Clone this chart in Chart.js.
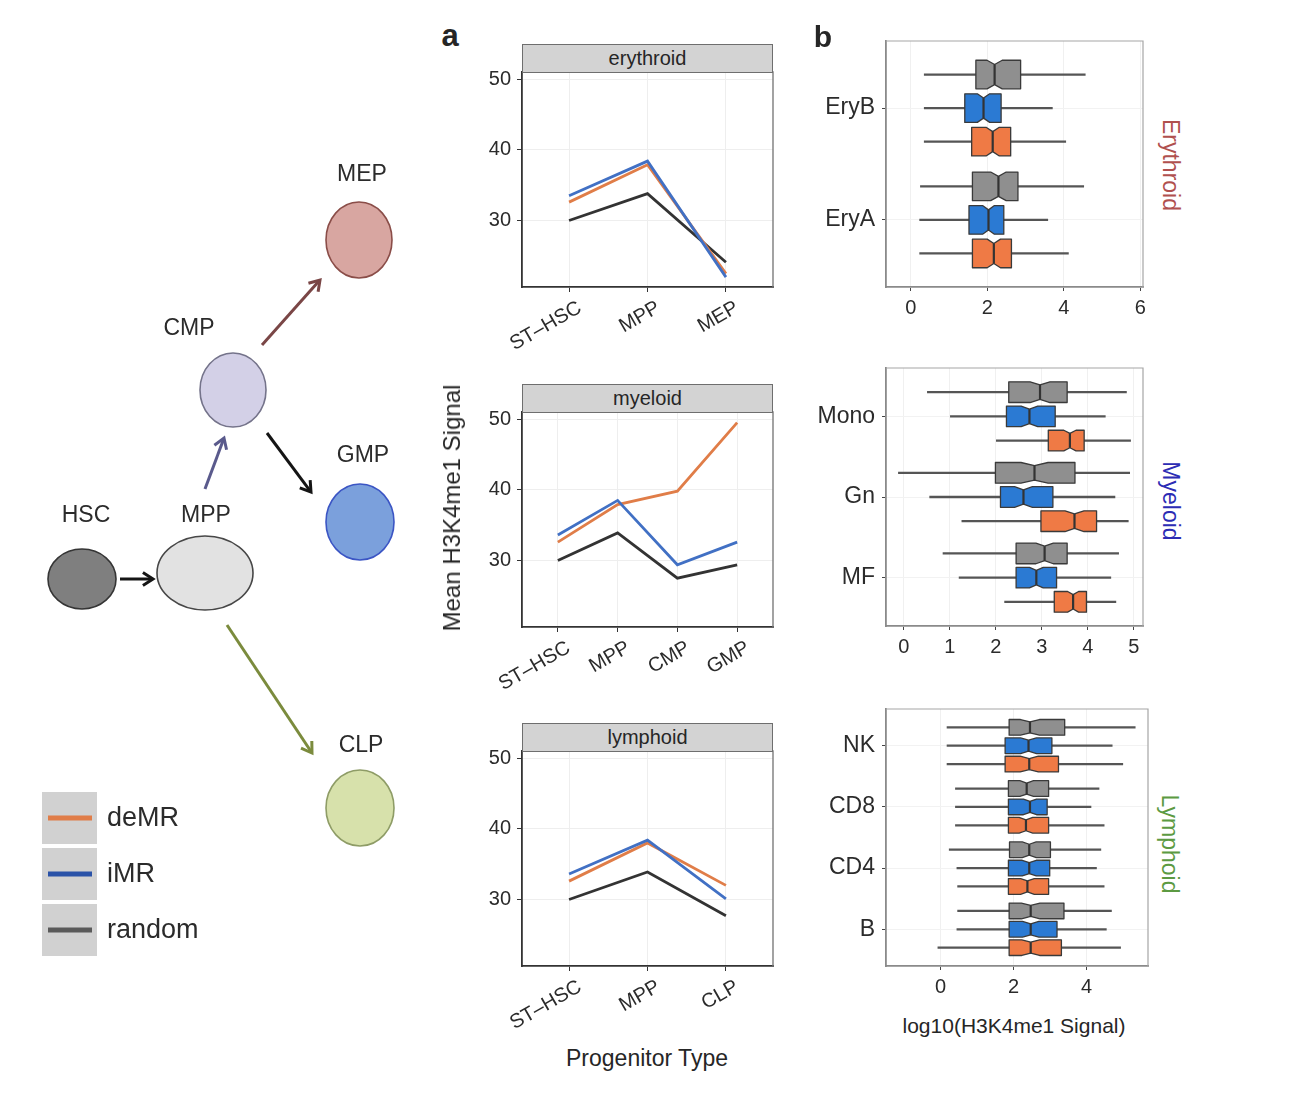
<!DOCTYPE html>
<html>
<head>
<meta charset="utf-8">
<script src="https://cdn.jsdelivr.net/npm/chart.js@4.4.1/dist/chart.umd.min.js"></script>
<style>
  body { margin: 0; background: #fff; font-family: "Liberation Sans", Arial, sans-serif; color: #262626; }
  #fig { position: relative; width: 1294px; height: 1100px; overflow: hidden; }
  canvas { position: absolute; }
  .strip { position: absolute; box-sizing: border-box; background: #d3d3d3; border: 1px solid #6e6e6e;
           text-align: center; font-size: 20px; color: #262626; }
  .lbl { position: absolute; white-space: nowrap; transform: translate(-50%, -50%); }
</style>
</head>
<body>
<div id="fig">
  <canvas id="diagram" width="420" height="1100" style="left:0;top:0"></canvas>

  <canvas id="lineEry" width="330" height="300" style="left:460px;top:62px"></canvas>
  <canvas id="lineMye" width="330" height="300" style="left:460px;top:402px"></canvas>
  <canvas id="lineLym" width="330" height="300" style="left:460px;top:741px"></canvas>
  <div class="strip" style="left:522px;top:44px;width:251px;height:29px;line-height:27px">erythroid</div>
  <div class="strip" style="left:522px;top:384px;width:251px;height:29px;line-height:27px">myeloid</div>
  <div class="strip" style="left:522px;top:723px;width:251px;height:29px;line-height:27px">lymphoid</div>

  <canvas id="boxEry" width="360" height="300" style="left:790px;top:30px"></canvas>
  <canvas id="boxMye" width="360" height="312" style="left:790px;top:357px"></canvas>
  <canvas id="boxLym" width="365" height="311" style="left:790px;top:698px"></canvas>

  <div class="lbl" style="left:450px;top:36px;font-size:31px;font-weight:bold">a</div>
  <div class="lbl" style="left:823px;top:37px;font-size:30px;font-weight:bold">b</div>
  <div class="lbl" style="left:452px;top:508px;font-size:24px;transform:translate(-50%,-50%) rotate(-90deg)">Mean H3K4me1 Signal</div>
  <div class="lbl" style="left:647px;top:1058px;font-size:23px">Progenitor Type</div>
  <div class="lbl" style="left:1014px;top:1026px;font-size:21px">log10(H3K4me1 Signal)</div>
  <div class="lbl" style="left:1170px;top:165px;font-size:23px;color:#b0504e;transform:translate(-50%,-50%) rotate(90deg)">Erythroid</div>
  <div class="lbl" style="left:1170px;top:501px;font-size:23px;color:#2c2cb4;transform:translate(-50%,-50%) rotate(90deg)">Myeloid</div>
  <div class="lbl" style="left:1169px;top:844px;font-size:23px;color:#5c9a42;transform:translate(-50%,-50%) rotate(90deg)">Lymphoid</div>
</div>

<script>
// ---- data: panel a (mean signal per progenitor stage) ----
const seriesNames = ['deMR', 'iMR', 'random'];

const eryStages = ['ST–HSC', 'MPP', 'MEP'];
const eryDeMR   = [32.6, 37.9, 22.5];
const eryIMR    = [33.5, 38.4, 22.0];
const eryRandom = [30.0, 33.8, 24.1];

const myeStages = ['ST–HSC', 'MPP', 'CMP', 'GMP'];
const myeDeMR   = [32.6, 37.9, 39.8, 49.5];
const myeIMR    = [33.6, 38.5, 29.4, 32.6];
const myeRandom = [30.0, 33.9, 27.5, 29.4];

const lymStages = ['ST–HSC', 'MPP', 'CLP'];
const lymDeMR   = [32.6, 38.0, 32.0];
const lymIMR    = [33.6, 38.4, 30.1];
const lymRandom = [30.0, 33.9, 27.7];

const lineTicks = [30, 40, 50];

// ---- data: panel b (box stats: [lower whisker, q1, median, q3, upper whisker]) ----
// cell types listed top to bottom
const eryCells = ['EryB', 'EryA'];
const eryBoxRandom = [[0.35, 1.70, 2.19, 2.87, 4.56], [0.25, 1.61, 2.29, 2.80, 4.52]];
const eryBoxIMR    = [[0.35, 1.41, 1.90, 2.36, 3.70], [0.23, 1.52, 2.03, 2.43, 3.58]];
const eryBoxDeMR   = [[0.35, 1.59, 2.14, 2.61, 4.05], [0.23, 1.61, 2.17, 2.63, 4.12]];
const eryBoxTicks  = [0, 2, 4, 6];

const myeCells = ['Mono', 'Gn', 'MF'];
const myeBoxRandom = [[0.51, 2.28, 2.96, 3.55, 4.84], [-0.12, 1.99, 2.84, 3.72, 4.91], [0.85, 2.44, 3.06, 3.55, 4.67]];
const myeBoxIMR    = [[1.01, 2.23, 2.73, 3.29, 4.38], [0.56, 2.10, 2.60, 3.24, 4.59], [1.20, 2.44, 2.88, 3.32, 4.50]];
const myeBoxDeMR   = [[2.01, 3.14, 3.61, 3.92, 4.93], [1.26, 2.98, 3.71, 4.19, 4.88], [2.19, 3.27, 3.68, 3.97, 4.61]];
const myeBoxTicks  = [0, 1, 2, 3, 4, 5];

const lymCells = ['NK', 'CD8', 'CD4', 'B'];
const lymBoxRandom = [[0.18, 1.88, 2.45, 3.40, 5.33], [0.41, 1.86, 2.36, 2.96, 4.34], [0.24, 1.89, 2.43, 3.01, 4.39], [0.47, 1.88, 2.47, 3.38, 4.68]];
const lymBoxIMR    = [[0.18, 1.77, 2.41, 3.05, 4.70], [0.41, 1.86, 2.45, 2.92, 4.12], [0.45, 1.86, 2.43, 2.99, 4.27], [0.45, 1.88, 2.47, 3.19, 4.54]];
const lymBoxDeMR   = [[0.18, 1.77, 2.43, 3.23, 4.99], [0.41, 1.86, 2.34, 2.96, 4.48], [0.47, 1.86, 2.38, 2.96, 4.48], [-0.07, 1.88, 2.47, 3.31, 4.93]];
const lymBoxTicks  = [0, 2, 4];

// ---- styles ----
const FONT = '"Liberation Sans", Arial, sans-serif';
const INK = '#2b2b2b';
const LINE_COL = { deMR: '#e07d48', iMR: '#4170c4', random: '#333333' };
const KEY_COL  = { deMR: '#e07d48', iMR: '#2a52a8', random: '#5a5a5a' };
const BOX_COL  = { deMR: '#ef7a45', iMR: '#2b7ad3', random: '#8f8f8f' };

// ---- lineage diagram layout (schematic, not data) ----
const nodes = [
  { name: 'HSC', x: 82,  y: 579, rx: 34, ry: 30, fill: '#7f7f7f', stroke: '#353535', lx: 86,  ly: 516 },
  { name: 'MPP', x: 205, y: 573, rx: 48, ry: 37, fill: '#e2e2e2', stroke: '#474747', lx: 206, ly: 516 },
  { name: 'CMP', x: 233, y: 390, rx: 33, ry: 37, fill: '#d3d0e7', stroke: '#74738a', lx: 189, ly: 329 },
  { name: 'MEP', x: 359, y: 240, rx: 33, ry: 38, fill: '#d8a6a1', stroke: '#8a4d48', lx: 362, ly: 175 },
  { name: 'GMP', x: 360, y: 522, rx: 34, ry: 38, fill: '#7ba0dc', stroke: '#3b55c4', lx: 363, ly: 456 },
  { name: 'CLP', x: 360, y: 808, rx: 34, ry: 38, fill: '#d7e1ab', stroke: '#8e9c66', lx: 361, ly: 746 },
];
const arrows = [
  { from: [120, 579], to: [153, 579], color: '#151515' },
  { from: [205, 489], to: [224, 438], color: '#5a5a8c' },
  { from: [262, 345], to: [320, 280], color: '#7a4646' },
  { from: [267, 433], to: [311, 492], color: '#151515' },
  { from: [227, 625], to: [312, 753], color: '#7b8b3d' },
];

function drawArrow(ctx, x1, y1, x2, y2, color) {
  const ang = Math.atan2(y2 - y1, x2 - x1), L = 12, A = Math.PI / 5.5;
  ctx.strokeStyle = color;
  ctx.lineWidth = 3;
  ctx.lineCap = 'butt';
  ctx.beginPath(); ctx.moveTo(x1, y1); ctx.lineTo(x2 - 1.5 * Math.cos(ang), y2 - 1.5 * Math.sin(ang)); ctx.stroke();
  ctx.lineJoin = 'miter';
  ctx.beginPath();
  ctx.moveTo(x2 - L * Math.cos(ang - A), y2 - L * Math.sin(ang - A));
  ctx.lineTo(x2, y2);
  ctx.lineTo(x2 - L * Math.cos(ang + A), y2 - L * Math.sin(ang + A));
  ctx.stroke();
}

const lineagePlugin = {
  id: 'lineage',
  afterDatasetsDraw(chart) {
    const { ctx, scales: { x, y } } = chart;
    const px = v => x.getPixelForValue(v), py = v => y.getPixelForValue(v);
    ctx.save();
    arrows.forEach(a => drawArrow(ctx, px(a.from[0]), py(a.from[1]), px(a.to[0]), py(a.to[1]), a.color));

    const meta = chart.getDatasetMeta(0);
    meta.data.forEach((pt, i) => {
      const n = nodes[i];
      ctx.beginPath();
      ctx.ellipse(pt.x, pt.y, n.rx, n.ry, 0, 0, Math.PI * 2);
      ctx.fillStyle = n.fill; ctx.fill();
      ctx.lineWidth = 1.6; ctx.strokeStyle = n.stroke; ctx.stroke();
      ctx.font = '23px ' + FONT;
      ctx.fillStyle = INK; ctx.textAlign = 'center'; ctx.textBaseline = 'middle';
      ctx.fillText(n.name, px(n.lx), py(n.ly));
    });

    // legend keys (deMR, iMR, random)
    seriesNames.forEach((s, k) => {
      const top = py(792 + k * 56);
      ctx.fillStyle = '#d1d1d1';
      ctx.fillRect(px(42), top, 55, 52);
      ctx.strokeStyle = KEY_COL[s];
      ctx.lineWidth = 5;
      ctx.beginPath(); ctx.moveTo(px(48), top + 26); ctx.lineTo(px(92), top + 26); ctx.stroke();
      ctx.font = '27px ' + FONT;
      ctx.fillStyle = INK; ctx.textAlign = 'left'; ctx.textBaseline = 'middle';
      ctx.fillText(s, px(107), top + 27);
    });
    ctx.restore();
  }
};

new Chart(document.getElementById('diagram'), {
  type: 'scatter',
  data: { datasets: [{ data: nodes.map(n => ({ x: n.x, y: n.y })), pointRadius: 0 }] },
  options: {
    responsive: false, animation: false,
    layout: { padding: 0 },
    plugins: { legend: { display: false }, tooltip: { enabled: false } },
    scales: {
      x: { type: 'linear', min: 0, max: 420, display: false },
      y: { type: 'linear', min: 0, max: 1100, reverse: true, display: false },
    },
  },
  plugins: [lineagePlugin],
});

// ---- panel border helpers ----
const topRightBorder = {
  id: 'topRight',
  afterDraw(chart, args, opts) {
    const { ctx, chartArea: a } = chart;
    ctx.save();
    ctx.strokeStyle = opts.color || '#8a8a8a';
    ctx.lineWidth = opts.width || 1.3;
    ctx.beginPath();
    ctx.moveTo(a.left, a.top); ctx.lineTo(a.right, a.top); ctx.lineTo(a.right, a.bottom);
    ctx.stroke();
    ctx.restore();
  }
};

// fixed axis sizes so every plot panel lands where the reference has it
const fixX = h => s => { s.height = h; s.paddingLeft = 0; s.paddingRight = 0; };
const fixY = w => s => { s.width = w; s.paddingTop = 0; s.paddingBottom = 0; };

function lineChart(id, stages, deMR, iMR, random) {
  const n = stages.length;
  const pts = vals => vals.map((v, i) => ({ x: i + 1, y: v }));
  const line = (name, vals, order) => ({
    label: name, data: pts(vals), borderColor: LINE_COL[name], borderWidth: 2.8,
    pointRadius: 0, tension: 0, fill: false, order,
  });
  return new Chart(document.getElementById(id), {
    type: 'line',
    data: { datasets: [line('iMR', iMR, 0), line('deMR', deMR, 1), line('random', random, 2)] },
    options: {
      responsive: false, animation: false,
      layout: { padding: { top: 10, right: 17, left: 0, bottom: 0 } },
      plugins: { legend: { display: false }, tooltip: { enabled: false }, topRight: { color: '#7c7c7c', width: 1.4 } },
      scales: {
        x: {
          type: 'linear', min: 0.4, max: n + 0.6,
          afterBuildTicks: s => { s.ticks = stages.map((_, i) => ({ value: i + 1 })); },
          afterFit: fixX(75),
          ticks: { callback: v => stages[v - 1], autoSkip: false, minRotation: 30, maxRotation: 30,
                   color: INK, font: { family: FONT, size: 20 }, padding: 4, labelOffset: 11 },
          grid: { color: '#eeeeee', tickColor: '#333', tickLength: 5 },
          border: { color: '#333', width: 1.8 },
        },
        y: {
          min: 20.6, max: 51,
          afterBuildTicks: s => { s.ticks = lineTicks.map(v => ({ value: v })); },
          afterFit: fixY(62),
          ticks: { color: INK, font: { family: FONT, size: 20 }, padding: 6 },
          grid: { color: '#eeeeee', tickColor: '#333', tickLength: 5 },
          border: { color: '#333', width: 1.8 },
        },
      },
    },
    plugins: [topRightBorder],
  });
}

lineChart('lineEry', eryStages, eryDeMR, eryIMR, eryRandom);
lineChart('lineMye', myeStages, myeDeMR, myeIMR, myeRandom);
lineChart('lineLym', lymStages, lymDeMR, lymIMR, lymRandom);

// ---- notched boxes drawn from the bar elements / scales ----
const notchBoxes = {
  id: 'notchBoxes',
  beforeDatasetDraw(chart, args) {
    if (chart.data.datasets[args.index].isBox) return false;
  },
  afterDatasetsDraw(chart) {
    const { ctx, scales: { x, y } } = chart;
    const half = Math.abs(y.getPixelForValue(0.128) - y.getPixelForValue(0));
    const px = v => x.getPixelForValue(v);
    ctx.save();
    chart.data.datasets.forEach((ds, di) => {
      if (!ds.isBox) return;
      const meta = chart.getDatasetMeta(di);
      ds.stats.forEach((st, i) => {
        const cy = meta.data[i].y;
        const q1 = st[1], med = st[2], q3 = st[3];
        const nh = 0.17 * (q3 - q1);
        const t = cy - half, b = cy + half, ind = half * 0.3;
        ctx.beginPath();
        ctx.moveTo(px(q1), t);
        ctx.lineTo(px(med - nh), t); ctx.lineTo(px(med), t + ind); ctx.lineTo(px(med + nh), t);
        ctx.lineTo(px(q3), t); ctx.lineTo(px(q3), b);
        ctx.lineTo(px(med + nh), b); ctx.lineTo(px(med), b - ind); ctx.lineTo(px(med - nh), b);
        ctx.lineTo(px(q1), b); ctx.closePath();
        ctx.fillStyle = ds.boxColor; ctx.fill();
        ctx.lineWidth = 1.3; ctx.strokeStyle = '#3a3a3a'; ctx.lineJoin = 'round'; ctx.stroke();
        ctx.beginPath();
        ctx.moveTo(px(med), t + ind); ctx.lineTo(px(med), b - ind);
        ctx.lineWidth = 2.2; ctx.strokeStyle = '#333'; ctx.stroke();
      });
    });
    ctx.restore();
  }
};

function boxChart(id, cells, series, xMin, xMax, ticks) {
  const n = cells.length;
  const datasets = [];
  series.forEach((s, k) => {
    const off = (1 - k) * 0.3;
    const pos = cells.map((_, i) => n - i + off);
    datasets.push({
      data: s.stats.map((st, i) => ({ y: pos[i], x: [st[0], st[4]] })),
      barThickness: 1.6, backgroundColor: '#555555', borderWidth: 0, grouped: false, order: 5,
    });
    datasets.push({
      label: s.name, isBox: true, stats: s.stats, boxColor: BOX_COL[s.name],
      data: s.stats.map((st, i) => ({ y: pos[i], x: [st[1], st[3]] })),
      barThickness: 10, backgroundColor: BOX_COL[s.name], grouped: false, order: 1,
    });
  });
  return new Chart(document.getElementById(id), {
    type: 'bar',
    data: { datasets },
    options: {
      indexAxis: 'y',
      responsive: false, animation: false,
      layout: { padding: { top: 11, right: 7, left: 0, bottom: 0 } },
      plugins: { legend: { display: false }, tooltip: { enabled: false }, topRight: { color: '#a6a6a6', width: 1.2 } },
      scales: {
        x: {
          type: 'linear', min: xMin, max: xMax, offset: false,
          afterBuildTicks: s => { s.ticks = ticks.map(v => ({ value: v })); },
          afterFit: fixX(43),
          ticks: { color: INK, font: { family: FONT, size: 20 }, padding: 5, maxRotation: 0 },
          grid: { color: '#f0f0f0', tickColor: '#444', tickLength: 4, offset: false },
          border: { color: '#8a8a8a', width: 1.8 },
        },
        y: {
          type: 'linear', min: 0.4, max: n + 0.6, offset: false,
          afterBuildTicks: s => { s.ticks = cells.map((_, i) => ({ value: i + 1 })); },
          afterFit: fixY(96),
          ticks: { callback: v => cells[n - v], color: INK, font: { family: FONT, size: 23 }, padding: 7 },
          grid: { color: '#f2f2f2', tickColor: '#444', tickLength: 4, offset: false },
          border: { color: '#8a8a8a', width: 1.8 },
        },
      },
    },
    plugins: [notchBoxes, topRightBorder],
  });
}

boxChart('boxEry', eryCells, [
  { name: 'random', stats: eryBoxRandom },
  { name: 'iMR', stats: eryBoxIMR },
  { name: 'deMR', stats: eryBoxDeMR },
], -0.65, 6.07, eryBoxTicks);

boxChart('boxMye', myeCells, [
  { name: 'random', stats: myeBoxRandom },
  { name: 'iMR', stats: myeBoxIMR },
  { name: 'deMR', stats: myeBoxDeMR },
], -0.39, 5.2, myeBoxTicks);

boxChart('boxLym', lymCells, [
  { name: 'random', stats: lymBoxRandom },
  { name: 'iMR', stats: lymBoxIMR },
  { name: 'deMR', stats: lymBoxDeMR },
], -1.49, 5.68, lymBoxTicks);
</script>
</body>
</html>
